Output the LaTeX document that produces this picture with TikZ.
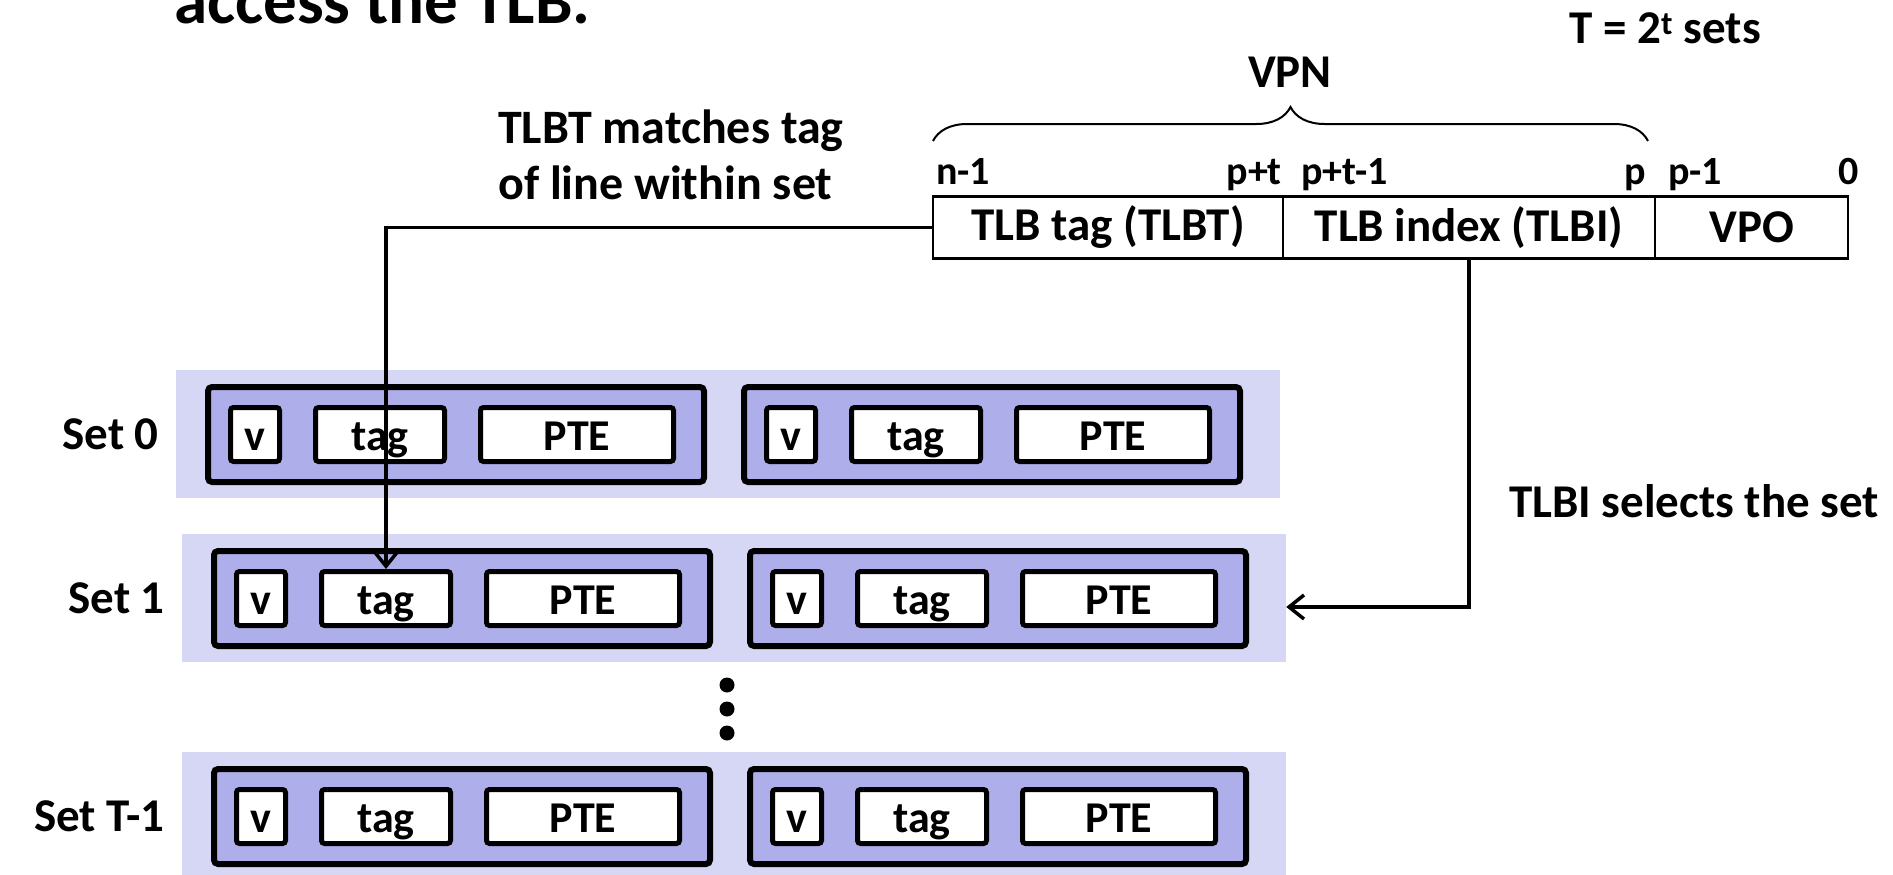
\documentclass[tikz,border=0pt]{standalone}
\usepackage{fontspec}
\setmainfont{Carlito}
\usetikzlibrary{arrows.meta, decorations.pathreplacing}

\definecolor{rowbg}{RGB}{214,214,245}
\definecolor{linefill}{RGB}{174,174,235}

\tikzset{
  setrow/.style={fill=rowbg, inner sep=0pt, minimum width=1104pt, minimum height=128pt},
  linebox/.style={draw, line width=6pt, fill=linefill, rounded corners=4pt, minimum width=496pt, minimum height=95pt},
  fieldbox/.style={draw, line width=5pt, fill=white, rounded corners=3pt, minimum height=54pt, inner sep=0pt,
    text height=32pt, text depth=0pt, font=\fontsize{44}{52}\selectfont\bfseries},
  setlbl/.style={inner sep=0pt, font=\fontsize{47}{56}\selectfont\bfseries},
  bitlbl/.style={inner sep=0pt, font=\fontsize{40}{48}\selectfont\bfseries},
  addrfield/.style={draw, line width=2.5pt, minimum height=62pt, inner sep=0pt, font=\fontsize{47}{56}\selectfont\bfseries},
  conn/.style={line width=3.5pt},
}

\begin{document}
\begin{tikzpicture}[x=1pt, y=-1pt, >={Straight Barb[length=15pt,width=24pt]}]
\useasboundingbox (0,0) rectangle (1893,875);
\clip (0,0) rectangle (1893,875);

\node[anchor=base west, inner sep=0pt, font=\fontsize{67}{72}\selectfont\bfseries] (title) at (174,24) {access the TLB.};
\node[setlbl, anchor=base] (nsets) at (1665,44) {T = 2\textsuperscript{t} sets};

% the TLB: three sets of two lines
\foreach \rw/\dx/\ty/\setname in {0/0/384/Set 0, 1/6/548/Set 1, T/6/766/Set T-1} {
  \node[setrow] (bg\rw) at (728+\dx,\ty+50) {};
  \node[setlbl, anchor=east] (set\rw) at (159+\dx,\ty+50) {\setname};
  \foreach \k/\lx in {1/205, 2/741} {
    \node[linebox] (line\rw\k) at (\lx+\dx+251,\ty+50.5) {};
    \node[fieldbox, minimum width=49pt] (v\rw\k) at (\lx+\dx+50,\ty+50.5) {v};
    \node[fieldbox, minimum width=129pt] (tag\rw\k) at (\lx+\dx+175,\ty+50.5) {tag};
    \node[fieldbox, minimum width=193pt] (pte\rw\k) at (\lx+\dx+372,\ty+50.5) {PTE};
  }
}
\fill (727,685) circle[radius=7.5pt];
\fill (727,709) circle[radius=7.5pt];
\fill (727,733) circle[radius=7.5pt];

% virtual address
\node[addrfield, minimum width=350pt] (tlbt) at (1108,227.5) {TLB tag (TLBT)};
\node[addrfield, minimum width=372pt] (tlbi) at (1469,227.5) {TLB index (TLBI)};
\node[addrfield, minimum width=193pt] (vpo) at (1751.5,227.5) {VPO};
\node[bitlbl, anchor=base west] (bn) at (936,184) {n-1};
\node[bitlbl, anchor=base east] (bpt) at (1282,184) {p+t};
\node[bitlbl, anchor=base west] (bpt1) at (1301,184) {p+t-1};
\node[bitlbl, anchor=base east] (bp) at (1646,184) {p};
\node[bitlbl, anchor=base west] (bp1) at (1668,184) {p-1};
\node[bitlbl, anchor=base east] (b0) at (1859,184) {0};
\draw[line width=2pt, decorate, decoration={brace, amplitude=34pt}] (933,141) -- (1648,141);
\node[setlbl] (vpn) at (1290,72) {VPN};

\node[setlbl, anchor=north west, align=left, font=\fontsize{48}{56}\selectfont\bfseries] (matchlbl) at (498,110)
  {TLBT matches tag\\of line within set};
\node[setlbl, anchor=base west] (sellbl) at (1509,517) {TLBI selects the set};

\draw[conn, ->] (tlbt.west) -| (tag11.north);
\draw[conn, ->] (tlbi.south) |- ([yshift=-9pt]bg1.east);
\end{tikzpicture}
\end{document}
